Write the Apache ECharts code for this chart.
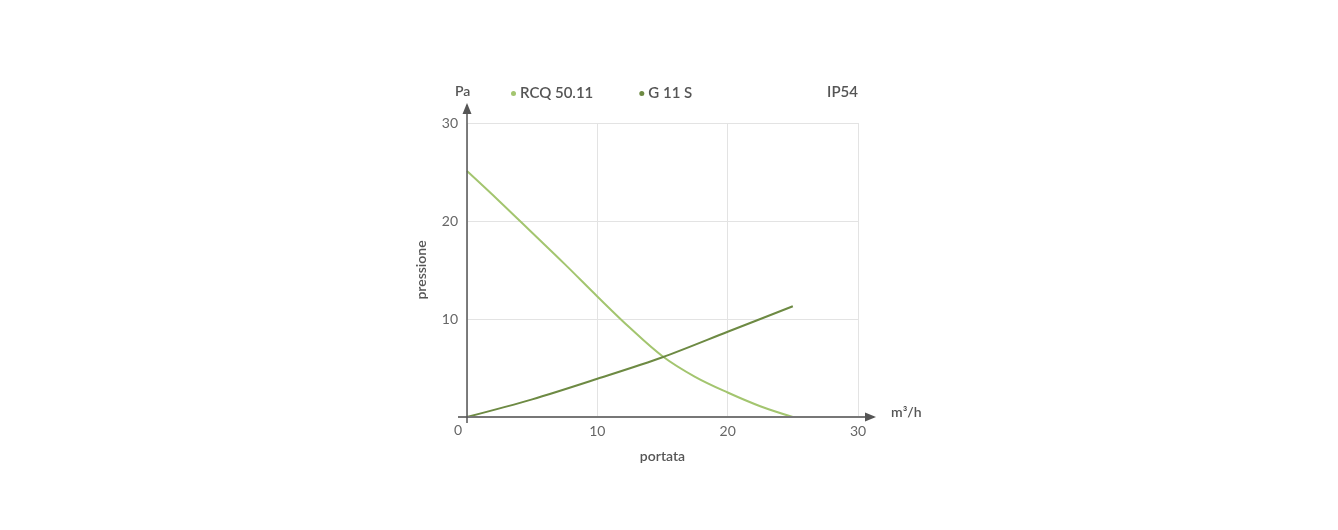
<!DOCTYPE html>
<html>
<head>
<meta charset="utf-8">
<script src="https://cdn.jsdelivr.net/npm/echarts@6/dist/echarts.min.js"></script>
<style>html,body{margin:0;padding:0;background:#fff}#c{width:1338px;height:530px}</style>
</head>
<body>
<div id="c"></div>
<script>
const xTicks = [0, 10, 20, 30];
const yTicks = [0, 10, 20, 30];
const rcqX = [0, 2.5, 5, 7.5, 10, 12.5, 15, 17.5, 20, 22.5, 25];
const rcqY = [25.1, 22.0, 18.8, 15.6, 12.3, 9.1, 6.2, 4.1, 2.5, 1.1, 0];
const g11X = [0, 5, 10, 15, 20, 25];
const g11Y = [0, 1.8, 3.9, 6.1, 8.7, 11.3];
const seriesNames = ['RCQ 50.11', 'G 11 S'];
const colors = ['#a3c56f', '#6d8a43'];
const FONT = 'Lato, "Open Sans", sans-serif';
const TXT = '#555';

const chart = echarts.init(document.getElementById('c'));
const zip = (xs, ys) => xs.map((x, i) => [x, ys[i]]);

chart.setOption({
  animation: false,
  textStyle: { fontFamily: FONT },
  grid: { left: 467, right: 480, top: 123, bottom: 113 },
  title: [
    { text: 'IP54', right: 480, top: 85, padding: 0, textStyle: { fontFamily: FONT, fontSize: 15, fontWeight: 600, color: TXT } },
    { text: 'Pa', left: 455, top: 84, padding: 0, textStyle: { fontFamily: FONT, fontSize: 14, fontWeight: 600, color: TXT } },
    { text: 'm³/h', left: 891, top: 405, padding: 0, textStyle: { fontFamily: FONT, fontSize: 14, fontWeight: 600, color: TXT } }
  ],
  legend: {
    left: 511, top: 86, padding: 0, icon: 'circle', itemWidth: 5, itemHeight: 5, itemGap: 46,
    data: seriesNames,
    textStyle: { fontFamily: FONT, fontSize: 15, fontWeight: 600, color: TXT, padding: [0, 0, 0, -1] }
  },
  xAxis: {
    type: 'value', min: 0, max: 30, interval: 10,
    name: 'portata', nameLocation: 'middle', nameGap: 32,
    nameTextStyle: { fontFamily: FONT, fontSize: 14, fontWeight: 600, color: TXT },
    axisLine: { show: false }, axisTick: { show: false },
    axisLabel: { color: '#666', fontSize: 14, margin: 7, fontFamily: FONT, showMinLabel: false },
    splitLine: { lineStyle: { color: '#e3e3e3', width: 1 } }
  },
  yAxis: {
    type: 'value', min: 0, max: 30, interval: 10,
    name: 'pressione', nameLocation: 'middle', nameGap: 39,
    nameTextStyle: { fontFamily: FONT, fontSize: 14, fontWeight: 600, color: TXT },
    axisLine: { show: false }, axisTick: { show: false },
    axisLabel: { color: '#666', fontSize: 14, margin: 9, fontFamily: FONT, showMinLabel: false },
    splitLine: { lineStyle: { color: '#e3e3e3', width: 1 } }
  },
  series: [
    { name: seriesNames[0], type: 'line', smooth: 0.35, showSymbol: false, data: zip(rcqX, rcqY),
      lineStyle: { color: colors[0], width: 2 }, itemStyle: { color: colors[0] }, z: 3 },
    { name: seriesNames[1], type: 'line', smooth: 0.3, showSymbol: false, data: zip(g11X, g11Y),
      lineStyle: { color: colors[1], width: 2 }, itemStyle: { color: colors[1] }, z: 3 }
  ]
});

// Axis lines with arrows, placed from the chart's own scales
const o = chart.convertToPixel({ gridIndex: 0 }, [xTicks[0], yTicks[0]]);
const xe = chart.convertToPixel({ gridIndex: 0 }, [xTicks[xTicks.length - 1], 0]);
const ye = chart.convertToPixel({ gridIndex: 0 }, [0, yTicks[yTicks.length - 1]]);
const axisColor = '#555';
chart.setOption({
  graphic: [
    { type: 'line', shape: { x1: o[0] - 9, y1: o[1], x2: xe[0] + 16, y2: o[1] }, style: { stroke: '#777', lineWidth: 2 }, z: 10 },
    { type: 'polygon', shape: { points: [[xe[0] + 18, o[1]], [xe[0] + 7, o[1] - 4.5], [xe[0] + 7, o[1] + 4.5]] }, style: { fill: axisColor }, z: 10 },
    { type: 'line', shape: { x1: o[0], y1: o[1] + 6, x2: o[0], y2: ye[1] - 18 }, style: { stroke: axisColor, lineWidth: 1.5 }, z: 10 },
    { type: 'polygon', shape: { points: [[o[0], ye[1] - 20], [o[0] - 4.5, ye[1] - 9], [o[0] + 4.5, ye[1] - 9]] }, style: { fill: axisColor }, z: 10 },
    { type: 'text', x: o[0] - 9, y: o[1] + 13, style: { text: String(xTicks[0]), fill: '#666', font: '14px ' + FONT, align: 'center', verticalAlign: 'middle' }, z: 10 }
  ]
});
</script>
</body>
</html>
